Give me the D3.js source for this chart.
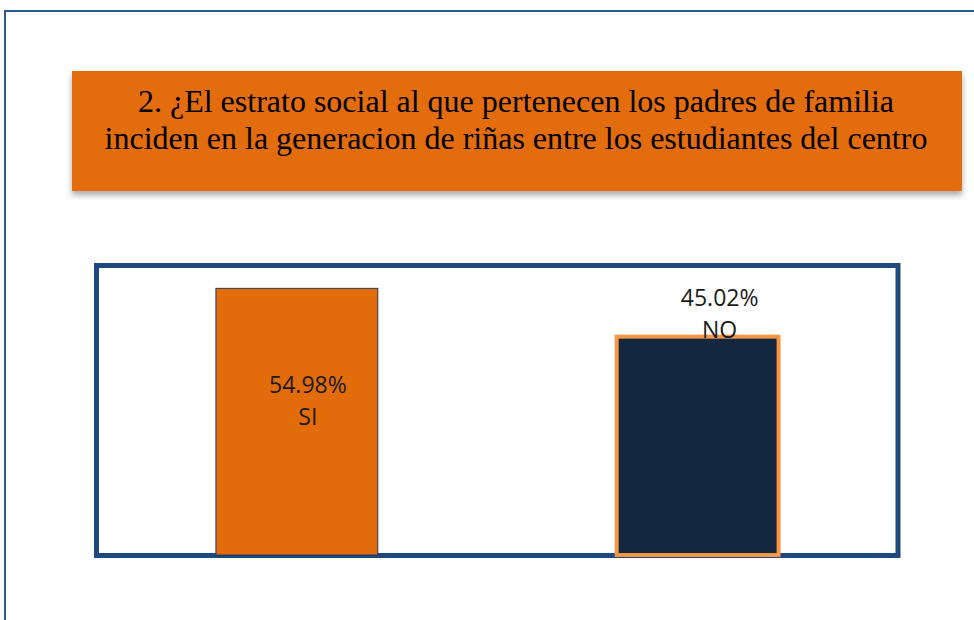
<!DOCTYPE html>
<html>
<head>
<meta charset="utf-8">
<script src="https://cdn.jsdelivr.net/npm/d3@7"></script>
<style>
  body { margin: 0; background: #fff; }
  svg { display: block; }
</style>
</head>
<body>
<div id="container"></div>
<script>
// data
const categories = ["SI", "NO"];
const values = [54.98, 45.02];
const valueLabels = ["54.98%", "45.02%"];
const titleLines = [
  "2. ¿El estrato social al que pertenecen los padres de familia",
  "inciden en la generacion de riñas entre los estudiantes del centro"
];

const width = 974, height = 620;

// bar styling + label placement (per category)
const barFill = ["#e36c0a", "#12263f"];
const barStroke = ["#1f3864", "#f79646"];
const barStrokeW = [1, 4];
const labelDx = [11, 22];
const labelDy = [105, -31];

const svg = d3.select("#container")
  .append("svg")
  .attr("width", width)
  .attr("height", height);

const defs = svg.append("defs");
const shadow = defs.append("filter")
  .attr("id", "shadow")
  .attr("x", "-5%").attr("y", "-20%")
  .attr("width", "110%").attr("height", "150%");
shadow.append("feDropShadow")
  .attr("dx", 0).attr("dy", 4)
  .attr("stdDeviation", 3)
  .attr("flood-color", "#000")
  .attr("flood-opacity", 0.35);

// outer frame (runs off the page right and bottom)
svg.append("rect")
  .attr("x", 5).attr("y", 11)
  .attr("width", 1000).attr("height", 700)
  .attr("fill", "none")
  .attr("stroke", "#2c5a8f")
  .attr("stroke-width", 2);

// title box
svg.append("rect")
  .attr("x", 72).attr("y", 71)
  .attr("width", 890).attr("height", 120)
  .attr("fill", "#e36c0a")
  .attr("filter", "url(#shadow)");

svg.append("g")
  .selectAll("text")
  .data(titleLines)
  .enter()
  .append("text")
  .attr("x", 516)
  .attr("y", (d, i) => 112 + i * 37)
  .attr("text-anchor", "middle")
  .style("font-family", "'Liberation Serif', 'Times New Roman', serif")
  .style("font-size", "32px")
  .style("fill", "#000")
  .text(d => d);

// plot area
const plot = { left: 96.5, right: 898, top: 265.5, bottom: 555.5 };

const x = d3.scaleBand()
  .domain(categories)
  .range([plot.left, plot.right])
  .paddingInner(0.596)
  .paddingOuter(0.298);

const y = d3.scaleLinear()
  .domain([0, 60])
  .range([555, 264]);

svg.append("rect")
  .attr("x", plot.left).attr("y", plot.top)
  .attr("width", plot.right - plot.left)
  .attr("height", plot.bottom - plot.top)
  .attr("fill", "#fff")
  .attr("stroke", "#1f497d")
  .attr("stroke-width", 5);

svg.append("g")
  .selectAll("rect")
  .data(values)
  .enter()
  .append("rect")
  .attr("x", (d, i) => x(categories[i]))
  .attr("y", d => y(d))
  .attr("width", x.bandwidth())
  .attr("height", d => y(0) - y(d))
  .attr("fill", (d, i) => barFill[i])
  .attr("stroke", (d, i) => barStroke[i])
  .attr("stroke-width", (d, i) => barStrokeW[i]);

const labels = svg.append("g")
  .selectAll("g")
  .data(values)
  .enter()
  .append("g")
  .attr("transform", (d, i) =>
    "translate(" + (x(categories[i]) + x.bandwidth() / 2 + labelDx[i]) + "," + (y(d) + labelDy[i]) + ")");

labels.append("text")
  .attr("text-anchor", "middle")
  .style("font-family", "'Open Sans', sans-serif")
  .style("font-size", "23px")
  .style("fill", "#1a1a1a")
  .text((d, i) => valueLabels[i]);

labels.append("text")
  .attr("y", 32)
  .attr("text-anchor", "middle")
  .style("font-family", "'Open Sans', sans-serif")
  .style("font-size", "23px")
  .style("fill", "#1a1a1a")
  .text((d, i) => categories[i]);
</script>
</body>
</html>
